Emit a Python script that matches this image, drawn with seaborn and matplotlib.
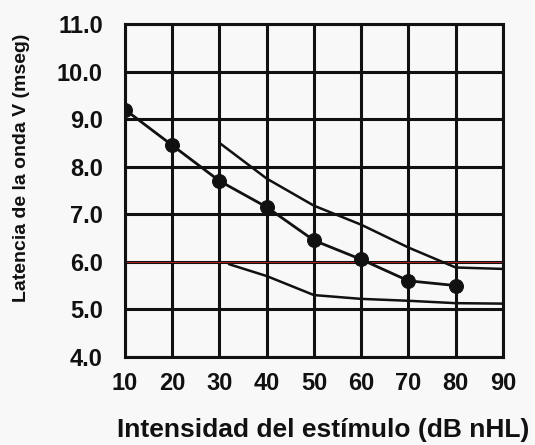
import matplotlib
matplotlib.use("Agg")
import matplotlib.pyplot as plt
import seaborn as sns
import pandas as pd

# Wave V latency vs stimulus intensity
intensity = [10, 20, 30, 40, 50, 60, 70, 80]
latency = [9.2, 8.45, 7.7, 7.15, 6.45, 6.05, 5.6, 5.5]

# Upper and lower normal limits
upper_x = [30, 40, 50, 60, 70, 80, 90]
upper_y = [8.5, 7.75, 7.18, 6.78, 6.3, 5.88, 5.85]
lower_x = [32, 40, 50, 60, 70, 80, 90]
lower_y = [5.95, 5.7, 5.3, 5.22, 5.18, 5.13, 5.12]

x_ticks = [10, 20, 30, 40, 50, 60, 70, 80, 90]
y_ticks = [4.0, 5.0, 6.0, 7.0, 8.0, 9.0, 10.0, 11.0]
y_ref = 6.0

sns.set_theme(style="white")
plt.rcParams['font.family'] = ['Liberation Sans', 'DejaVu Sans']
plt.rcParams['font.weight'] = 'bold'

fig = plt.figure(figsize=(5.35, 4.45), dpi=100, facecolor="#f8f8f8")
ax = fig.add_axes([0.2336, 0.198, 0.7064, 0.748])
ax.set_facecolor("#f8f8f8")

ink = "#111111"

ax.set_xlim(10, 90)
ax.set_ylim(4.0, 11.0)
ax.set_xticks(x_ticks)
ax.set_yticks(y_ticks)
ax.set_yticklabels([f"{v:.1f}" for v in y_ticks])
ax.grid(True, color=ink, linewidth=2.2, zorder=0)
ax.set_axisbelow(True)
for s in ax.spines.values():
    s.set_visible(True)
    s.set_color(ink)
    s.set_linewidth(2.2)

ax.axhline(y_ref, color="#b02020", linewidth=0.7, zorder=1)

df_main = pd.DataFrame({"x": intensity, "y": latency})
df_up = pd.DataFrame({"x": upper_x, "y": upper_y})
df_lo = pd.DataFrame({"x": lower_x, "y": lower_y})

sns.lineplot(data=df_up, x="x", y="y", ax=ax, color=ink, linewidth=1.8, zorder=2)
sns.lineplot(data=df_lo, x="x", y="y", ax=ax, color=ink, linewidth=1.8, zorder=2)
sns.lineplot(data=df_main, x="x", y="y", ax=ax, color=ink, linewidth=2.0,
             marker="o", markersize=10, markeredgecolor=ink, zorder=3)

ax.tick_params(axis="both", length=0, labelsize=17, colors=ink)
ax.tick_params(axis="y", pad=16)
ax.tick_params(axis="x", pad=11)
for lbl in ax.get_xticklabels() + ax.get_yticklabels():
    lbl.set_fontweight("bold")

ax.set_xlabel("Intensidad del estímulo (dB nHL)", fontsize=19, fontweight="bold", color=ink)
ax.set_ylabel("Latencia de la onda V (mseg)", fontsize=14, fontweight="bold", color=ink)
ax.xaxis.set_label_coords(0.525, -0.185)
ax.yaxis.set_label_coords(-0.25, 0.569)

fig.savefig("out.png", dpi=100, facecolor=fig.get_facecolor())
